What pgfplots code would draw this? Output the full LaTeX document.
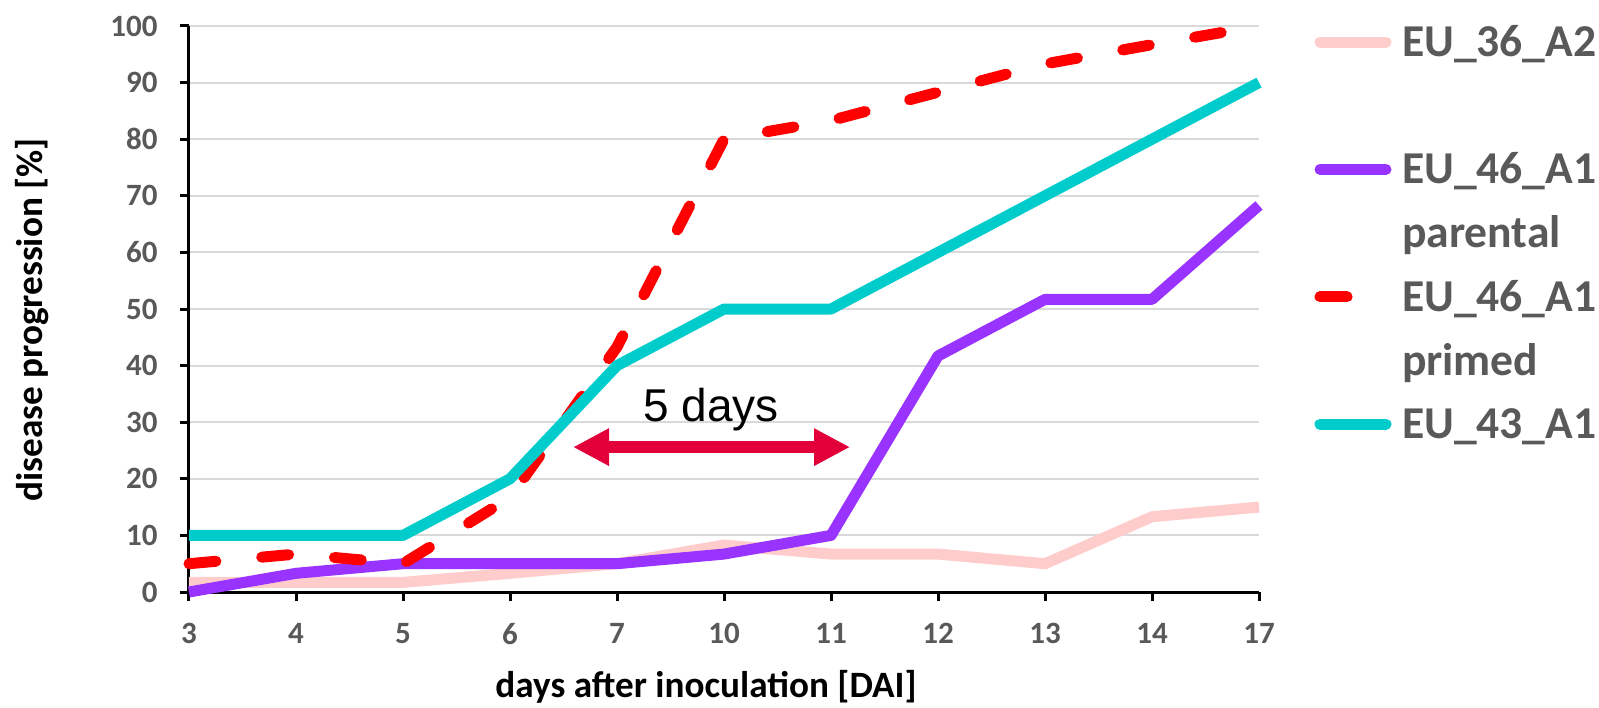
\documentclass[border=0pt]{standalone}
\usepackage{pgfplots}
\pgfplotsset{compat=1.18}
\usetikzlibrary{arrows.meta}
\usepackage{fontspec}
\setmainfont{Carlito}
\newfontfamily\arialfont{Liberation Sans}
\definecolor{cPink}{HTML}{FFCCCC}
\definecolor{cPurple}{HTML}{9933FF}
\definecolor{cRed}{HTML}{FF0000}
\definecolor{cCyan}{HTML}{00CCCC}
\definecolor{cArrow}{HTML}{E3003A}
\definecolor{cGray}{HTML}{595959}
\definecolor{cGrid}{HTML}{D9D9D9}

\begin{document}
\begin{tikzpicture}
\useasboundingbox (-94.5pt,-57.5pt) rectangle (705pt,296pt);
\begin{axis}[
  at={(0,0)}, anchor=south west,
  scale only axis, width=535pt, height=283pt,
  xmin=0, xmax=10, ymin=0, ymax=100,
  axis x line*=bottom, axis y line*=left,
  axis line style={black, line width=1.5pt, -},
  xtick={0,...,10}, xticklabels={3,4,5,6,7,10,11,12,13,14,17},
  ytick={0,10,...,100},
  tick align=outside, major tick length=4.5pt,
  tick style={black, line width=1.5pt},
  ymajorgrids, major grid style={cGrid, line width=1pt},
  ticklabel style={font=\bfseries\fontsize{15.5}{18}\selectfont, text=cGray, inner sep=0pt},
  /pgf/number format/assume math mode=true,
  yticklabel style={anchor=east},
  xticklabel style={anchor=north},
  yticklabel shift=11pt,
  xticklabel shift=11pt,
  xlabel={days after inoculation [DAI]},
  ylabel={disease progression [\%]},
  label style={font=\bfseries\fontsize{18.6}{21}\selectfont, text=black, inner sep=0pt},
  xlabel style={at={(axis description cs:0.4832,0)}, anchor=base, yshift=-52.5pt},
  ylabel style={at={(axis description cs:-0.13738,0.4806)}, anchor=base, rotate=0},
  clip=false,
  legend cell align=left,
  legend image code/.code={\draw[#1, line cap=round] (0pt,0pt) -- (33pt,0pt);},
  legend style={draw=none, fill=none, inner sep=0pt, outer sep=0pt,
    at={(axis description cs:1.05187,0.9991)}, anchor=north west,
    row sep=16.35pt, column sep=5.25pt,
    nodes={inner sep=0pt, text height=15pt, text depth=0.5pt,
      font=\bfseries\fontsize{22.8}{26}\selectfont, text=cGray}},
]
\addplot[cPink, line width=5.5pt, line join=round] coordinates {(0,1.7)(1,1.7)(2,1.7)(3,3.3)(4,5)(5,8.3)(6,6.7)(7,6.7)(8,5)(9,13.3)(10,15)};
\addlegendentry{EU\_36\_A2}
\addlegendimage{empty legend}
\addlegendentry{}
\addplot[cPurple, line width=5.5pt, line join=round] coordinates {(0,0)(1,3.3)(2,5)(3,5)(4,5)(5,6.7)(6,10)(7,41.7)(8,51.7)(9,51.7)(10,68.3)};
\addlegendentry{EU\_46\_A1}
\addlegendimage{empty legend}
\addlegendentry{parental}
\addplot[cRed, line width=5.5pt, line join=round, line cap=round, dash pattern=on 13.5pt off 23pt] coordinates {(0,5)(1,6.7)(2,5)(3,16.7)(4,43.3)(5,80)(6,83.3)(7,88.3)(8,93.3)(9,96.7)(10,100)};
\addlegendentry{EU\_46\_A1}
\addlegendimage{empty legend}
\addlegendentry{primed}
\addplot[cCyan, line width=5.5pt, line join=round] coordinates {(0,10)(1,10)(2,10)(3,20)(4,40)(5,50)(6,50)(7,60)(8,70)(9,80)(10,90)};
\addlegendentry{EU\_43\_A1}
\draw[cArrow, line width=6pt, {Triangle[width=17.5pt,length=18pt]}-{Triangle[width=17.5pt,length=18pt]}] (axis cs:3.589,25.6) -- (axis cs:6.178,25.6);
\node[font=\arialfont\fontsize{23}{27}\selectfont, anchor=base, inner sep=0pt] at (axis cs:4.879,30.04) {5 days};
\end{axis}
\end{tikzpicture}
\end{document}
